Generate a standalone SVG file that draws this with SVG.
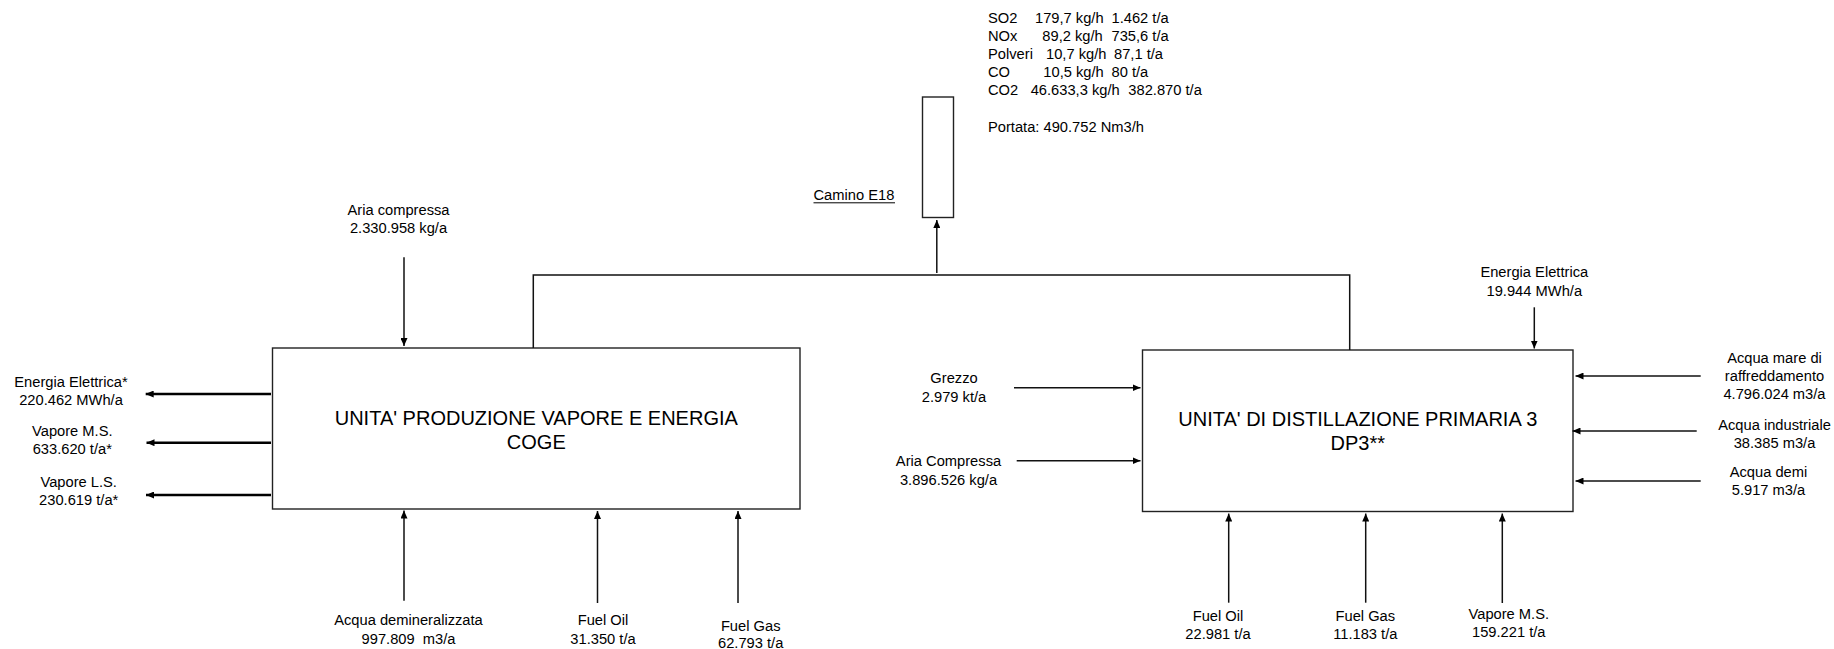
<svg xmlns="http://www.w3.org/2000/svg" width="1834" height="649" viewBox="0 0 1834 649">
<style>
text{font-family:"Liberation Sans",Arial,sans-serif;fill:#000}
.lbl{font-size:14.7px;text-anchor:middle}
.em{font-size:14.7px}
.title{font-size:20px;text-anchor:middle}
.box{fill:#fff;stroke:#222;stroke-width:1.4}
.ln{fill:none;stroke:#111;stroke-width:1.5}
.arr{fill:none;stroke:#111;stroke-width:1.5;marker-end:url(#ah)}
.arrw{fill:none;stroke:#000;stroke-width:2.4;marker-end:url(#ahw)}
</style>
<defs>
<marker id="ah" viewBox="0 0 8 7" refX="8" refY="3.5" markerWidth="8" markerHeight="7" markerUnits="userSpaceOnUse" orient="auto"><path d="M0,0 L8,3.5 L0,7 z" fill="#000"/></marker>
<marker id="ahw" viewBox="0 0 8 7" refX="8" refY="3.5" markerWidth="8" markerHeight="7" markerUnits="userSpaceOnUse" orient="auto"><path d="M0,0 L8,3.5 L0,7 z" fill="#000"/></marker>
</defs>
<rect width="1834" height="649" fill="#fff"/>

<g id="emissions">
<text class="em" y="22.5"><tspan x="988">SO2</tspan><tspan x="1035">179,7 kg/h</tspan><tspan x="1111.5">1.462 t/a</tspan></text>
<text class="em" y="40.7"><tspan x="988">NOx</tspan><tspan x="1042.3">89,2 kg/h</tspan><tspan x="1111.5">735,6 t/a</tspan></text>
<text class="em" y="58.9"><tspan x="988">Polveri</tspan><tspan x="1046">10,7 kg/h</tspan><tspan x="1114">87,1 t/a</tspan></text>
<text class="em" y="77.1"><tspan x="988">CO</tspan><tspan x="1043.3">10,5 kg/h</tspan><tspan x="1111.5">80 t/a</tspan></text>
<text class="em" y="95.3"><tspan x="988">CO2</tspan><tspan x="1030.7">46.633,3 kg/h</tspan><tspan x="1128.3">382.870 t/a</tspan></text>
<text class="em" x="988" y="131.7">Portata: 490.752 Nm3/h</text>
</g>

<g id="camino">
<rect class="box" x="922.5" y="97" width="31" height="120.5"/>
<text class="em" x="813.5" y="200">Camino E18</text>
<line x1="813.5" y1="202.8" x2="895" y2="202.8" stroke="#000" stroke-width="1"/>
</g>

<g id="coge">
<rect class="box" x="272.5" y="348" width="527.5" height="161"/>
<text class="title" x="536.3" y="424.5">UNITA' PRODUZIONE VAPORE E ENERGIA</text>
<text class="title" x="536.3" y="448.5">COGE</text>
</g>

<g id="dp3">
<rect class="box" x="1142.5" y="350" width="430.5" height="161.5"/>
<text class="title" x="1357.8" y="425.5">UNITA' DI DISTILLAZIONE PRIMARIA 3</text>
<text class="title" x="1357.8" y="449.5">DP3**</text>
</g>

<g id="labels">
<text class="lbl" x="398.5" y="215">Aria compressa</text>
<text class="lbl" x="398.5" y="233.3">2.330.958 kg/a</text>
<text class="lbl" x="71" y="387.3">Energia Elettrica*</text>
<text class="lbl" x="71" y="405">220.462 MWh/a</text>
<text class="lbl" x="72.3" y="436">Vapore M.S.</text>
<text class="lbl" x="72.3" y="453.5">633.620 t/a*</text>
<text class="lbl" x="78.7" y="487.3">Vapore L.S.</text>
<text class="lbl" x="78.7" y="505">230.619 t/a*</text>
<text class="lbl" x="408.5" y="625">Acqua demineralizzata</text>
<text class="lbl" x="408.5" y="643.5" xml:space="preserve">997.809  m3/a</text>
<text class="lbl" x="603" y="625">Fuel Oil</text>
<text class="lbl" x="603" y="643.5">31.350 t/a</text>
<text class="lbl" x="750.7" y="630.5">Fuel Gas</text>
<text class="lbl" x="750.7" y="648">62.793 t/a</text>
<text class="lbl" x="954" y="383.3">Grezzo</text>
<text class="lbl" x="954" y="401.7">2.979 kt/a</text>
<text class="lbl" x="948.5" y="466">Aria Compressa</text>
<text class="lbl" x="948.5" y="484.5">3.896.526 kg/a</text>
<text class="lbl" x="1534.3" y="276.5">Energia Elettrica</text>
<text class="lbl" x="1534.3" y="295.5">19.944 MWh/a</text>
<text class="lbl" x="1774.5" y="362.5">Acqua mare di</text>
<text class="lbl" x="1774.5" y="380.7">raffreddamento</text>
<text class="lbl" x="1774.5" y="398.9">4.796.024 m3/a</text>
<text class="lbl" x="1774.5" y="429.5">Acqua industriale</text>
<text class="lbl" x="1774.5" y="447.5">38.385 m3/a</text>
<text class="lbl" x="1768.5" y="477">Acqua demi</text>
<text class="lbl" x="1768.5" y="495">5.917 m3/a</text>
<text class="lbl" x="1218" y="621">Fuel Oil</text>
<text class="lbl" x="1218" y="639">22.981 t/a</text>
<text class="lbl" x="1365.3" y="621">Fuel Gas</text>
<text class="lbl" x="1365.3" y="639">11.183 t/a</text>
<text class="lbl" x="1508.8" y="618.5">Vapore M.S.</text>
<text class="lbl" x="1508.8" y="636.5">159.221 t/a</text>
</g>

<g id="connectors">
<polyline class="ln" points="533.3,348 533.3,275 1349.7,275 1349.7,350"/>
<line class="arr" x1="936.8" y1="273" x2="936.8" y2="220"/>
<line class="arr" x1="404" y1="257.3" x2="404" y2="346"/>
<line class="arrw" x1="271" y1="394" x2="145.7" y2="394"/>
<line class="arrw" x1="271" y1="442.7" x2="146.5" y2="442.7"/>
<line class="arrw" x1="271" y1="495" x2="146" y2="495"/>
<line class="arr" x1="404" y1="600.7" x2="404" y2="510.5"/>
<line class="arr" x1="597.5" y1="603" x2="597.5" y2="511"/>
<line class="arr" x1="738" y1="603" x2="738" y2="511"/>
<line class="arr" x1="1014" y1="387.7" x2="1140.5" y2="387.7"/>
<line class="arr" x1="1016.7" y1="460.7" x2="1140.5" y2="460.7"/>
<line class="arr" x1="1534.3" y1="307.3" x2="1534.3" y2="348.5"/>
<line class="arr" x1="1700.7" y1="376" x2="1575.5" y2="376"/>
<line class="arr" x1="1696.7" y1="431" x2="1572.5" y2="431"/>
<line class="arr" x1="1700.7" y1="481" x2="1575.5" y2="481"/>
<line class="arr" x1="1228.7" y1="602.7" x2="1228.7" y2="513.5"/>
<line class="arr" x1="1365.7" y1="602.7" x2="1365.7" y2="513.5"/>
<line class="arr" x1="1502.3" y1="603" x2="1502.3" y2="513.5"/>
</g>
</svg>
